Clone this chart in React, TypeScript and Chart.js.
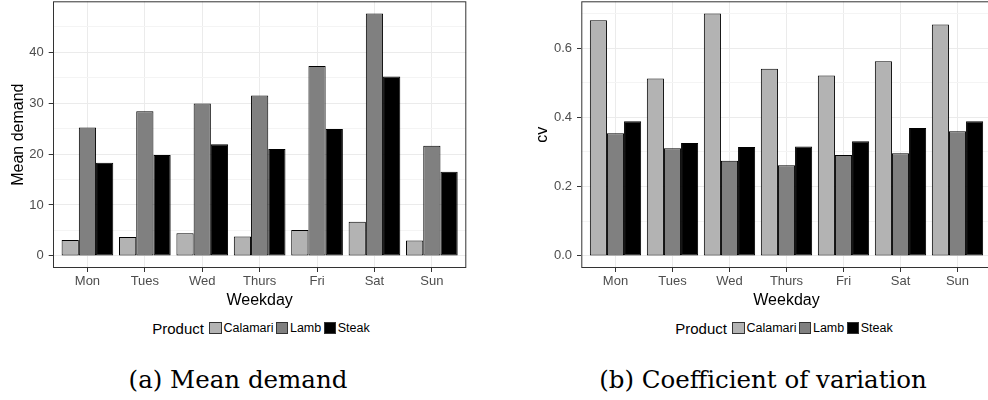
import React, { useEffect, useRef } from 'react';
import { Chart, registerables } from 'chart.js';

Chart.register(...registerables);

// ---- data ----
const weekdays = ['Mon', 'Tues', 'Wed', 'Thurs', 'Fri', 'Sat', 'Sun'];
const products = ['Calamari', 'Lamb', 'Steak'];
const productColors = ['#b3b3b3', '#808080', '#000000'];

const meanCalamari = [3.1, 3.7, 4.45, 3.8, 5.1, 6.7, 3.0];
const meanLamb = [25.2, 28.4, 29.9, 31.5, 37.3, 47.6, 21.6];
const meanSteak = [18.3, 19.8, 21.9, 21.0, 24.9, 35.2, 16.5];

const cvCalamari = [0.68, 0.512, 0.7, 0.54, 0.521, 0.562, 0.668];
const cvLamb = [0.354, 0.311, 0.275, 0.262, 0.291, 0.296, 0.36];
const cvSteak = [0.389, 0.326, 0.314, 0.316, 0.331, 0.369, 0.389];

const meanMajorTicks = [0, 10, 20, 30, 40];
const meanMinorTicks = [5, 15, 25, 35, 45];
const cvMajorTicks = [0, 0.2, 0.4, 0.6];
const cvMinorTicks = [0.1, 0.3, 0.5, 0.7];

const legendTitle = 'Product';
const xTitle = 'Weekday';

const FONT = "'Liberation Sans', Arial, Helvetica, sans-serif";

type PanelProps = {
  series: number[][];
  majorTicks: number[];
  minorTicks: number[];
  yTitle: string;
  tickFmt: (v: number) => string;
  canvasWidth: number;
  canvasHeight: number;
  yAxisWidth: number;
  yTitlePad: number;
  padRight: number;
};

function isIn(list: number[], v: number) {
  return list.some((t) => Math.abs(t - v) < 1e-9);
}

function BarPanel(p: PanelProps) {
  const ref = useRef<HTMLCanvasElement | null>(null);
  useEffect(() => {
    if (!ref.current) return;
    const all = p.series.flat();
    const maxV = Math.max(...all);
    const yMin = -0.05 * maxV;
    const yMax = maxV * 1.05;
    const panelBorder = {
      id: 'panelBorder',
      afterDatasetsDraw(chart: any) {
        const { ctx, chartArea } = chart;
        ctx.save();
        ctx.strokeStyle = '#333333';
        ctx.lineWidth = 1;
        ctx.strokeRect(
          chartArea.left + 0.5,
          chartArea.top + 0.5,
          chartArea.right - chartArea.left - 1,
          chartArea.bottom - chartArea.top - 1
        );
        ctx.restore();
      },
    };
    const chart = new Chart(ref.current, {
      type: 'bar',
      data: {
        datasets: products.map((name, k) => ({
          label: name,
          data: weekdays.map((_, i) => ({ x: i + 1, y: p.series[k][i] })),
          backgroundColor: productColors[k],
          borderColor: '#000000',
          borderWidth: 1,
          borderSkipped: false,
          categoryPercentage: 0.9,
          barPercentage: 1.0,
        })),
      },
      options: {
        responsive: false,
        animation: false,
        events: [],
        layout: { padding: { top: 1.3, right: p.padRight, left: 0, bottom: 0 } },
        plugins: { legend: { display: false }, tooltip: { enabled: false } },
        scales: {
          x: {
            type: 'linear',
            min: 0.4,
            max: weekdays.length + 0.6,
            offset: false,
            afterBuildTicks: (scale: any) => {
              scale.ticks = weekdays.map((_, i) => ({ value: i + 1 }));
            },
            afterFit: (scale: any) => {
              scale.height = p.canvasHeight - 268;
              scale.paddingLeft = 0;
              scale.paddingRight = 0;
            },
            grid: {
              offset: false,
              color: '#ebebeb',
              lineWidth: 1,
              tickLength: 4,
              tickColor: '#333333',
              tickWidth: 1,
            },
            border: { display: false },
            ticks: {
              autoSkip: false,
              maxRotation: 0,
              padding: 2,
              color: '#4d4d4d',
              font: { family: FONT, size: 13 },
              callback: (v: any) => weekdays[Math.round(Number(v)) - 1] ?? '',
            },
            title: {
              display: true,
              text: xTitle,
              color: '#000000',
              font: { family: FONT, size: 16 },
              padding: { top: 0, bottom: 2 },
            },
          },
          y: {
            type: 'linear',
            min: yMin,
            max: yMax,
            afterBuildTicks: (scale: any) => {
              scale.ticks = [...p.majorTicks, ...p.minorTicks]
                .sort((a, b) => a - b)
                .map((v) => ({ value: v }));
            },
            afterFit: (scale: any) => {
              scale.width = p.yAxisWidth;
              scale.paddingTop = 0;
              scale.paddingBottom = 0;
            },
            grid: {
              color: (c: any) => (isIn(p.majorTicks, c.tick.value) ? '#ebebeb' : '#f4f4f4'),
              lineWidth: 1,
              tickLength: 4.3,
              tickColor: (c: any) => (isIn(p.majorTicks, c.tick.value) ? '#333333' : 'rgba(0,0,0,0)'),
              tickWidth: 1,
            },
            border: { display: false },
            ticks: {
              padding: 5,
              color: '#4d4d4d',
              font: { family: FONT, size: 13 },
              callback: (v: any) => (isIn(p.majorTicks, Number(v)) ? p.tickFmt(Number(v)) : ''),
            },
            title: {
              display: true,
              text: p.yTitle,
              color: '#000000',
              font: { family: FONT, size: 16 },
              padding: { top: p.yTitlePad, bottom: 0 },
            },
          },
        },
      } as any,
      plugins: [panelBorder],
    });
    return () => chart.destroy();
  }, []);
  return (
    <canvas
      ref={ref}
      width={p.canvasWidth}
      height={p.canvasHeight}
      style={{ width: p.canvasWidth, height: p.canvasHeight, display: 'block' }}
    />
  );
}

function Legend({ center, top }: { center: number; top: number }) {
  return (
    <div
      style={{
        position: 'absolute',
        left: center - 200,
        width: 400,
        top,
        height: 16,
        display: 'flex',
        justifyContent: 'center',
        alignItems: 'center',
        fontFamily: FONT,
        color: '#000',
        whiteSpace: 'nowrap',
      }}
    >
      <span style={{ fontSize: 15, marginRight: 5.5 }}>{legendTitle}</span>
      {products.map((name, k) => (
        <React.Fragment key={name}>
          <span
            style={{
              display: 'inline-block',
              width: 12.3,
              height: 12.3,
              boxSizing: 'border-box',
              border: '1px solid #333',
              background: productColors[k],
            }}
          />
          <span style={{ fontSize: 12.5, marginLeft: 1.7, marginRight: k < products.length - 1 ? 2.5 : 0 }}>
            {name}
          </span>
        </React.Fragment>
      ))}
    </div>
  );
}

function Caption({ center, text }: { center: number; text: string }) {
  return (
    <div
      style={{
        position: 'absolute',
        left: center - 250,
        width: 500,
        top: 364.5,
        height: 30,
        lineHeight: '30px',
        textAlign: 'center',
        fontFamily: "'DejaVu Serif', 'Liberation Serif', serif",
        fontSize: 24.5,
        color: '#000',
        whiteSpace: 'nowrap',
      }}
    >
      {text}
    </div>
  );
}

export default function App() {
  return (
    <div
      style={{
        position: 'fixed',
        left: 0,
        top: 0,
        width: 988,
        height: 400,
        background: '#ffffff',
        overflow: 'hidden',
      }}
    >
      <div style={{ position: 'absolute', left: 0, top: 0, width: 480, height: 312 }}>
        <BarPanel
          series={[meanCalamari, meanLamb, meanSteak]}
          majorTicks={meanMajorTicks}
          minorTicks={meanMinorTicks}
          yTitle="Mean demand"
          tickFmt={(v) => String(v)}
          canvasWidth={480}
          canvasHeight={312}
          yAxisWidth={53}
          yTitlePad={8.9}
          padRight={13.7}
        />
      </div>
      <div style={{ position: 'absolute', left: 520, top: 0, width: 468, height: 312, overflow: 'hidden' }}>
        <BarPanel
          series={[cvCalamari, cvLamb, cvSteak]}
          majorTicks={cvMajorTicks}
          minorTicks={cvMinorTicks}
          yTitle="cv"
          tickFmt={(v) => v.toFixed(1)}
          canvasWidth={480}
          canvasHeight={312}
          yAxisWidth={61.3}
          yTitlePad={13.4}
          padRight={8.3}
        />
      </div>
      <Legend center={261} top={320} />
      <Legend center={784} top={320} />
      <Caption center={238} text="(a) Mean demand" />
      <Caption center={763} text="(b) Coefficient of variation" />
    </div>
  );
}
